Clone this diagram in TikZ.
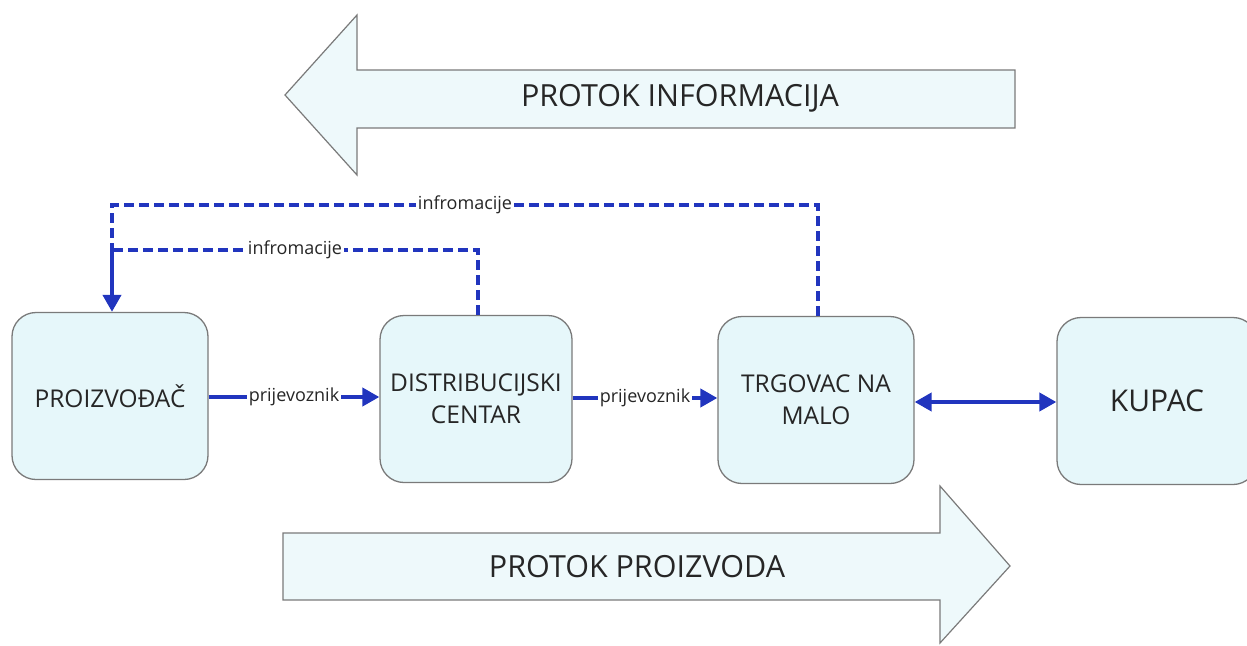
\documentclass[tikz,border=0pt]{standalone}
\usepackage{fontspec}
\setmainfont{Open Sans}
\usetikzlibrary{arrows.meta}
\definecolor{boxfill}{HTML}{E6F7FA}
\definecolor{arrfill}{HTML}{EEF9FB}
\definecolor{edge}{HTML}{7A7A7A}
\definecolor{lineblue}{HTML}{2135BE}
\tikzset{
  x=1pt,y=-1pt,
  stagebox/.style={draw=edge,line width=1.3pt,fill=boxfill,rounded corners=24pt,minimum width=196pt,minimum height=167pt,align=center,font=\fontsize{24.5}{32}\selectfont,text=black!85,inner sep=0pt},
  bigarrow/.style={draw=edge,line width=1.2pt,fill=arrfill,line join=miter},
  flow/.style={draw=lineblue,line width=4pt,-{Triangle[length=17pt,width=18pt]}},
  both/.style={draw=lineblue,line width=4pt,{Triangle[length=17pt,width=18pt]}-{Triangle[length=17pt,width=18pt]}},
  infodash/.style={draw=lineblue,line width=4.5pt,dash pattern=on 10pt off 5pt},
  lbl/.style={fill=white,inner sep=1.5pt,font=\fontsize{18}{20}\selectfont,text=black!85},
  bigtext/.style={font=\fontsize{30.5}{34}\selectfont,text=black!85}
}
\begin{document}
\begin{tikzpicture}
\useasboundingbox (0,0) rectangle (1247,645);
% big arrows
\draw[bigarrow] (1015,70) -- (357,70) -- (357,15) -- (285,95) -- (357,175) -- (357,128) -- (1015,128) -- cycle;
\node[bigtext] (pinfo) at (680,98) {PROTOK INFORMACIJA};
\draw[bigarrow] (283,533) -- (940,533) -- (940,486) -- (1010,566) -- (940,643) -- (940,600) -- (283,600) -- cycle;
\node[bigtext] (pprod) at (637,567) {PROTOK PROIZVODA};
% boxes
\node[stagebox] (p) at (110,396) {PROIZVOĐAČ};
\node[stagebox,minimum width=192pt] (d) at (476,399) {DISTRIBUCIJSKI\\CENTAR};
\node[stagebox,minimum width=196pt] (t) at (816,400) {TRGOVAC NA\\MALO};
\node[stagebox,minimum width=200pt,font=\fontsize{30}{34}\selectfont] (k) at (1157,401) {KUPAC};
% flow arrows
\draw[flow] (p.east |- 0,397) -- node[lbl] {prijevoznik} (d.west |- 0,397);
\draw[flow] (d.east |- 0,398) -- node[lbl] {prijevoznik} (t.west |- 0,398);
\draw[both] (t.east |- 0,402) -- (k.west |- 0,402);
% info dashed lines
\coordinate (c1) at (818,205);
\coordinate (c2) at (112,205);
\coordinate (c3) at (478,250);
\coordinate (c4) at (112,250);
\draw[infodash] (t.north -| c1) -- (c1) -- node[lbl,pos=0.5] {infromacije} (c2) -- (c4);
\draw[infodash] (d.north -| c3) -- (c3) -- node[lbl,pos=0.5] {infromacije} (c4);
\draw[flow] (c4) -- (p.north -| c4);
\end{tikzpicture}
\end{document}
